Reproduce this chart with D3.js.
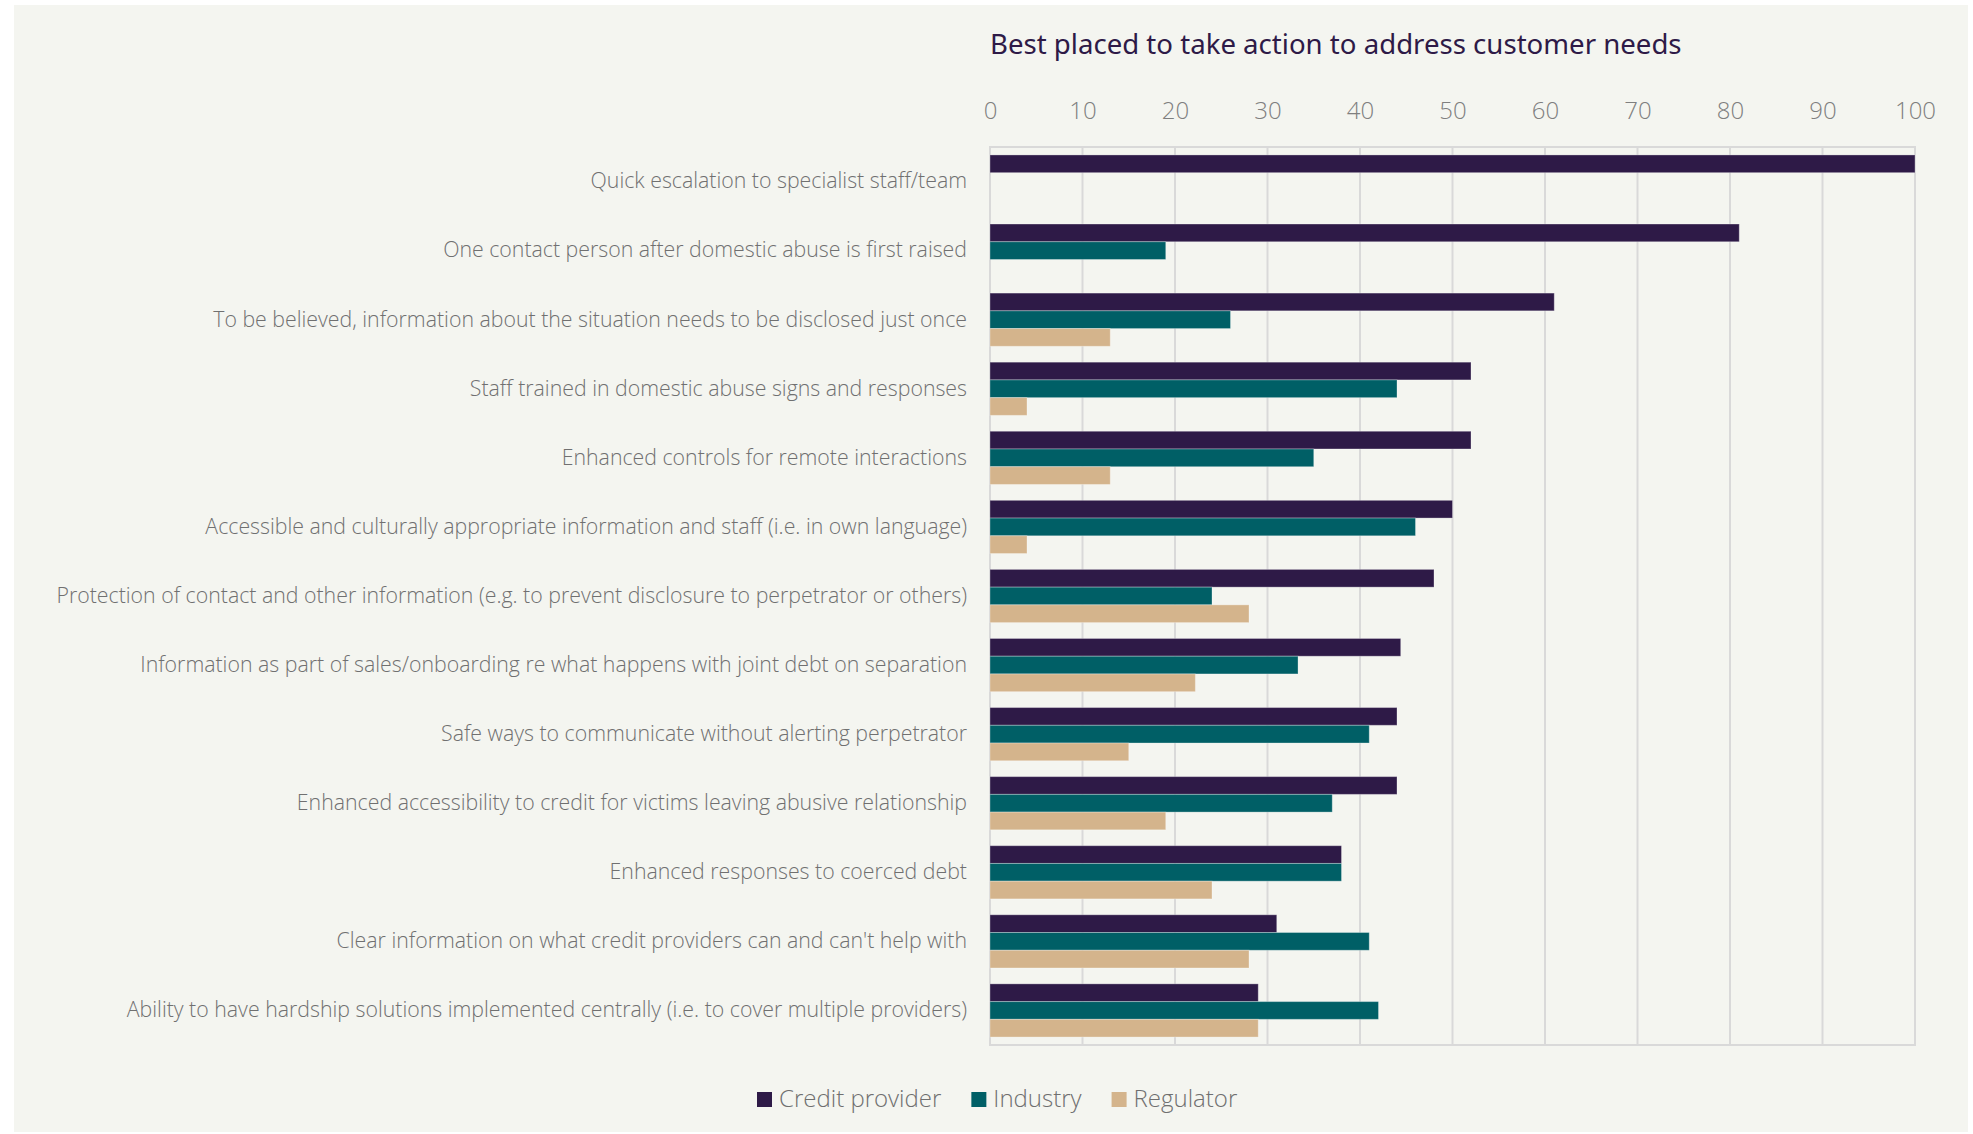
<!DOCTYPE html>
<html>
<head>
<meta charset="utf-8">
<script src="https://cdn.jsdelivr.net/npm/d3@7"></script>
<style>
  body { margin: 0; background: #ffffff; }
  svg { display: block; font-family: "Open Sans", sans-serif; }
</style>
</head>
<body>
<svg width="1973" height="1134"></svg>
<script>
// Chart data
const categories = [
    "Quick escalation to specialist staff/team",
    "One contact person after domestic abuse is first raised",
    "To be believed, information about the situation needs to be disclosed just once",
    "Staff trained in domestic abuse signs and responses",
    "Enhanced controls for remote interactions",
    "Accessible and culturally appropriate information and staff (i.e. in own language)",
    "Protection of contact and other information (e.g. to prevent disclosure to perpetrator or others)",
    "Information as part of sales/onboarding re what happens with joint debt on separation",
    "Safe ways to communicate without alerting perpetrator",
    "Enhanced accessibility to credit for victims leaving abusive relationship",
    "Enhanced responses to coerced debt",
    "Clear information on what credit providers can and can't help with",
    "Ability to have hardship solutions implemented centrally (i.e. to cover multiple providers)"
];
const seriesNames = ["Credit provider", "Industry", "Regulator"];
const creditProvider = [100, 81, 61, 52, 52, 50, 48, 44.4, 44, 44, 38, 31, 29];
const industry = [0, 19, 26, 44, 35, 46, 24, 33.3, 41, 37, 38, 41, 42];
const regulator = [0, 0, 13, 4, 13, 4, 28, 22.2, 15, 19, 24, 28, 29];
const xTicks = [0, 10, 20, 30, 40, 50, 60, 70, 80, 90, 100];
const title = "Best placed to take action to address customer needs";

const seriesValues = [creditProvider, industry, regulator];
const colors = ["#2e1a47", "#005f66", "#d4b48c"];

const svg = d3.select("svg");

// Panel background
svg.append("rect")
    .attr("x", 14).attr("y", 5)
    .attr("width", 1954).attr("height", 1127)
    .attr("fill", "#f4f5f0");

const plot = { left: 990, right: 1915, top: 147, bottom: 1045 };

const x = d3.scaleLinear()
    .domain([0, 100])
    .range([plot.left, plot.right]);

const y = d3.scaleBand()
    .domain(categories)
    .range([plot.top, plot.bottom])
    .paddingInner(0.23)
    .paddingOuter(0.115);

const ySub = d3.scaleBand()
    .domain(seriesNames)
    .range([0, y.bandwidth()]);

// Gridlines
svg.append("g")
    .selectAll("line")
    .data(xTicks)
    .join("line")
    .attr("x1", d => x(d)).attr("x2", d => x(d))
    .attr("y1", plot.top).attr("y2", plot.bottom)
    .attr("stroke", "#d9d9d9")
    .attr("stroke-width", 2);

// Plot border
svg.append("rect")
    .attr("x", plot.left).attr("y", plot.top)
    .attr("width", plot.right - plot.left)
    .attr("height", plot.bottom - plot.top)
    .attr("fill", "none")
    .attr("stroke", "#d9d9d9")
    .attr("stroke-width", 2);

// Bars
const groups = svg.append("g")
    .selectAll("g")
    .data(categories)
    .join("g")
    .attr("transform", d => `translate(0,${y(d)})`);

groups.selectAll("rect")
    .data((c, i) => seriesNames.map((s, j) => ({ series: s, value: seriesValues[j][i], color: colors[j] })))
    .join("rect")
    .filter(d => d.value > 0)
    .attr("x", x(0))
    .attr("y", d => ySub(d.series))
    .attr("width", d => x(d.value) - x(0))
    .attr("height", ySub.bandwidth())
    .attr("fill", d => d.color)
    .attr("stroke", "#ffffff")
    .attr("stroke-opacity", 0.3)
    .attr("stroke-width", 1);

// Top axis tick labels
const xAxis = svg.append("g")
    .attr("transform", `translate(0,${plot.top})`)
    .call(d3.axisTop(x).tickValues(xTicks).tickSize(0).tickPadding(28));
xAxis.select(".domain").remove();
xAxis.selectAll("text")
    .attr("font-family", "Open Sans, sans-serif")
    .attr("font-size", 24)
    .attr("font-weight", 300)
    .attr("fill", "#7f7f7f");

// Category labels
const yAxis = svg.append("g")
    .attr("transform", `translate(${plot.left},0)`)
    .call(d3.axisLeft(y).tickSize(0).tickPadding(23));
yAxis.select(".domain").remove();
yAxis.selectAll("text")
    .attr("font-family", "Open Sans, sans-serif")
    .attr("font-size", 21.3)
    .attr("font-weight", 300)
    .attr("fill", "#707070");

// Title
svg.append("text")
    .attr("x", plot.left)
    .attr("y", 54)
    .attr("font-family", "Noto Sans, sans-serif")
    .attr("font-size", 27.6)
    .attr("fill", "#2e1a47")
    .text(title);

// Legend
const legend = svg.append("g").attr("transform", "translate(757,1092)");
let lx = 0;
seriesNames.forEach((s, i) => {
    const item = legend.append("g").attr("transform", `translate(${lx},0)`);
    item.append("rect")
        .attr("width", 15).attr("height", 15)
        .attr("fill", colors[i]);
    const t = item.append("text")
        .attr("x", 22).attr("y", 15)
        .attr("font-size", 24)
        .attr("font-weight", 300)
        .attr("fill", "#6f6f6f")
        .text(s);
    lx += 22 + t.node().getComputedTextLength() + 30;
});
</script>
</body>
</html>
